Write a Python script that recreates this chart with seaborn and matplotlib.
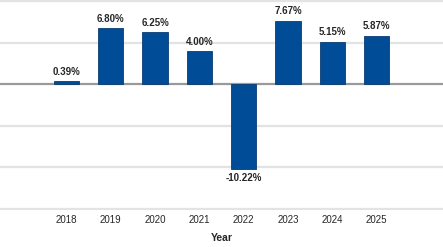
import numpy as np
import pandas as pd
import matplotlib
matplotlib.use("Agg")
import matplotlib.pyplot as plt
import seaborn as sns

years = ["2018", "2019", "2020", "2021", "2022", "2023", "2024", "2025"]
returns = [0.39, 6.80, 6.25, 4.00, -10.22, 7.67, 5.15, 5.87]
labels = ["0.39%", "6.80%", "6.25%", "4.00%", "-10.22%", "7.67%", "5.15%", "5.87%"]
grid_vals = [10, 5, -5, -10, -15]

df = pd.DataFrame({"Year": years, "Return": returns})

sns.set_style("white")
plt.rcParams["font.family"] = ["Liberation Sans", "DejaVu Sans"]

fig = plt.figure(figsize=(4.43, 2.47), dpi=100)
ax = fig.add_axes([0.0, 0.148, 1.0, 0.85])

# grid lines first so bars sit on top
for g in grid_vals:
    ax.axhline(g, color="#e3e3e3", lw=1.6, zorder=0)
ax.axhline(0, color="#9a9a9a", lw=1.6, zorder=1)

sns.barplot(data=df, x="Year", y="Return", color="#004c97", width=0.57,
            saturation=1, edgecolor="#0a3b72", linewidth=0.6, ax=ax, zorder=2)

for i, (v, t) in enumerate(zip(returns, labels)):
    if v >= 0:
        ax.annotate(t, (i, v), xytext=(0, 3), textcoords="offset points",
                    ha="center", va="bottom", fontsize=7, fontweight="bold")
    else:
        ax.annotate(t, (i, v), xytext=(0, -3), textcoords="offset points",
                    ha="center", va="top", fontsize=7, fontweight="bold")

ax.set_xlim(-1.5, 8.5)
ax.set_ylim(-15.2, 10.1)
ax.set_yticks([])
ax.tick_params(axis="x", length=0, labelsize=7, pad=3)
ax.set_xlabel("Year", fontsize=7.5, fontweight="bold", labelpad=6)
ax.set_ylabel("")
for s in ax.spines.values():
    s.set_visible(False)

fig.savefig("out.png", dpi=100)
